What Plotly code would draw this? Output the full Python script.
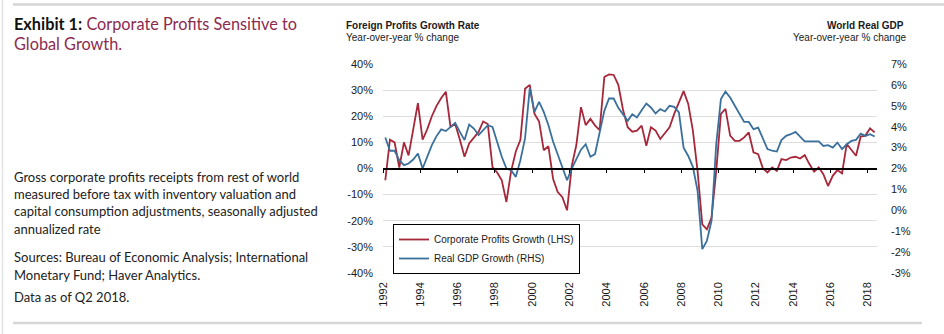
import pandas as pd
import plotly.graph_objects as go

# Quarterly series, 1992 Q1 - 2018 Q2
quarters = pd.date_range("1992-01-01", periods=106, freq="QS") + pd.Timedelta(days=45)

profits_growth = [
    -4.5, 11.0, 10.0, 0.4,      # 1992
    10.0, 5.0, 15.0, 25.0,      # 1993
    11.0, 15.0, 20.0, 24.0,     # 1994
    27.0, 29.4, 16.0, 17.0,     # 1995
    11.0, 4.5, 9.6, 12.0,       # 1996
    14.0, 18.0, 17.0, 0.5,      # 1997
    -1.5, -4.5, -12.8, -1.0,    # 1998
    6.5, 11.0, 30.5, 32.0,      # 1999
    21.0, 18.0, 7.0, 8.5,       # 2000
    -4.0, -9.0, -11.0, -16.0,   # 2001
    1.0, 9.0, 23.5, 16.6,       # 2002
    19.0, 16.5, 14.7, 35.0,     # 2003
    36.0, 35.8, 32.0, 22.5,     # 2004
    15.8, 14.1, 14.5, 16.4,     # 2005
    8.7, 15.8, 14.5, 11.3,      # 2006
    13.8, 15.8, 20.9, 25.4,     # 2007
    29.6, 24.7, 14.5, -1.0,     # 2008
    -21.4, -23.3, -18.8, -1.0,  # 2009
    20.9, 22.8, 12.6, 10.6,     # 2010
    10.6, 11.9, 13.8, 6.2,      # 2011
    5.5, 0.1, -1.5, 0.4,        # 2012
    -0.9, 3.6, 3.2, 4.2,        # 2013
    4.5, 3.8, 5.1, 1.7,         # 2014
    -1.2, 0.4, -2.2, -6.7,      # 2015
    -2.8, -0.6, -1.9, 9.4,      # 2016
    7.1, 4.9, 12.2, 12.6,       # 2017
    15.4, 13.8,                 # 2018
]

gdp_growth = [
    3.48, 2.85, 2.85, 2.40,     # 1992
    2.16, 2.24, 2.43, 2.72,     # 1993
    2.00, 2.56, 3.12, 3.55,     # 1994
    3.87, 3.79, 3.99, 4.18,     # 1995
    3.75, 3.36, 4.10, 3.91,     # 1996
    3.60, 3.83, 4.07, 3.99,     # 1997
    3.28, 2.56, 2.00, 1.92,     # 1998
    1.60, 2.40, 3.44, 5.83,     # 1999
    4.71, 5.19, 4.71, 4.07,     # 2000
    3.28, 2.64, 2.08, 1.44,     # 2001
    2.00, 2.48, 2.90, 3.16,     # 2002
    2.56, 2.69, 3.80, 4.76,     # 2003
    5.35, 5.35, 4.90, 4.60,     # 2004
    4.28, 4.60, 4.44, 4.79,     # 2005
    5.11, 4.92, 4.63, 4.84,     # 2006
    4.73, 5.00, 4.95, 4.68,     # 2007
    3.00, 2.60, 2.08, 0.93,     # 2008
    -1.86, -1.46, -0.50, 3.16,  # 2009
    5.32, 5.68, 5.40, 5.00,     # 2010
    4.60, 4.23, 4.23, 3.88,     # 2011
    3.96, 3.45, 2.93, 2.85,     # 2012
    2.81, 3.36, 3.56, 3.64,     # 2013
    3.75, 3.52, 3.30, 3.30,     # 2014
    3.30, 3.30, 3.08, 3.12,     # 2015
    3.00, 3.24, 2.93, 3.16,     # 2016
    3.32, 3.37, 3.67, 3.56,     # 2017
    3.64, 3.53,                 # 2018
]

left_ticks = [-40, -30, -20, -10, 0, 10, 20, 30, 40]
left_tick_labels = [f"{v}%" for v in left_ticks]
right_ticks = [-3, -2, -1, 0, 1, 2, 3, 4, 5, 6, 7]
right_tick_labels = [f"{v}%" for v in right_ticks]

RED = "#A6283A"
BLUE = "#3A709C"
MAROON = "#8C2B4E"
GRID = "#DEDEDE"

W, H = 944, 334
PL, PR, PT, PB = 383, 877, 64, 273   # plot area edges in pixels


def px(x):
    return (x - PL) / (PR - PL)


def py(y):
    return (PB - y) / (PB - PT)


fig = go.Figure()
fig.add_trace(go.Scatter(
    x=quarters, y=profits_growth, mode="lines",
    name="Corporate Profits Growth (LHS)",
    line=dict(color=RED, width=1.8), yaxis="y",
))
fig.add_trace(go.Scatter(
    x=quarters, y=gdp_growth, mode="lines",
    name="Real GDP Growth (RHS)",
    line=dict(color=BLUE, width=1.8), yaxis="y2",
))
# carrier for the zero-line axis with its biennial tick marks
fig.add_trace(go.Scatter(
    x=quarters[:1], y=[0], mode="markers", marker=dict(opacity=0),
    xaxis="x2", yaxis="y", showlegend=False, hoverinfo="skip",
))

x_range = ["1992-01-01", "2018-07-01"]
tick_font = dict(family="Arial", size=11, color="#1a1a1a")

fig.update_layout(
    width=W, height=H,
    margin=dict(l=PL, r=W - PR, t=PT, b=H - PB, pad=0),
    plot_bgcolor="white", paper_bgcolor="white",
    showlegend=True,
    legend=dict(
        x=px(393), y=py(224), xanchor="left", yanchor="top",
        bgcolor="white", bordercolor="black", borderwidth=1,
        font=dict(family="Arial", size=10, color="#1a1a1a"),
        tracegroupgap=0, itemwidth=30,
    ),
    xaxis=dict(
        range=x_range, type="date", tickmode="linear",
        tick0="1992-01-01", dtick="M24", tickformat="%Y",
        tickangle=-90, ticks="", showgrid=False, showline=False,
        zeroline=False, tickfont=tick_font, automargin=False,
        ticklabelstandoff=6,
    ),
    xaxis2=dict(
        range=x_range, type="date", overlaying="x", anchor="free",
        position=0.5, side="bottom", tickmode="linear",
        tick0="1992-01-01", dtick="M24", ticks="outside", ticklen=4,
        tickwidth=1.3, tickcolor="black", showticklabels=False,
        showline=True, linecolor="black", linewidth=1.5,
        showgrid=False, zeroline=False, automargin=False,
    ),
    yaxis=dict(
        range=[-40, 40], tickmode="array", tickvals=left_ticks,
        ticktext=left_tick_labels, showgrid=True, gridcolor=GRID,
        gridwidth=1, zeroline=False, showline=False, ticks="",
        tickfont=tick_font, automargin=False, ticklabelstandoff=9,
    ),
    yaxis2=dict(
        range=[-3, 7], overlaying="y", side="right", tickmode="array",
        tickvals=right_ticks, ticktext=right_tick_labels,
        showgrid=False, zeroline=False, showline=False, ticks="",
        tickfont=tick_font, automargin=False, ticklabelstandoff=13,
    ),
)

# page rules
rule = dict(color="#D6D6D6")
fig.add_shape(type="line", xref="paper", yref="paper",
              x0=px(13), x1=px(944), y0=py(4.5), y1=py(4.5),
              line=dict(width=2.5, **rule))
fig.add_shape(type="line", xref="paper", yref="paper",
              x0=px(13), x1=px(922), y0=py(323), y1=py(323),
              line=dict(width=2.5, **rule))
fig.add_shape(type="line", xref="paper", yref="paper",
              x0=px(2.5), x1=px(2.5), y0=py(0), y1=py(334),
              line=dict(width=1.5, color="#E3E3E3"))


def note(text, x, y, size, color="#222222", family="Lato",
         xanchor="left", bold=False):
    if bold:
        text = f"<b>{text}</b>"
    fig.add_annotation(
        text=text, x=px(x), y=py(y), xref="paper", yref="paper",
        xanchor=xanchor, yanchor="middle", showarrow=False,
        font=dict(family=family, size=size, color=color),
    )


# exhibit title
note(f"<b>Exhibit 1:</b> <span style='color:{MAROON}'>Corporate Profits Sensitive to</span>",
     12, 23.5, 16.3, color="#111111")
note("Global Growth.", 12, 44, 16.3, color=MAROON)

# description
body = [
    ("Gross corporate profits receipts from rest of world", 177),
    ("measured before tax with inventory valuation and", 194),
    ("capital consumption adjustments, seasonally adjusted", 211),
    ("annualized rate", 228.5),
    ("Sources: Bureau of Economic Analysis; International", 257),
    ("Monetary Fund; Haver Analytics.", 274.5),
    ("Data as of Q2 2018.", 296.5),
]
for line, yy in body:
    note(line, 12, yy, 13)

# axis headers
note("Foreign Profits Growth Rate", 344, 25, 10, family="Arial",
     color="#1a1a1a", bold=True)
note("Year-over-year % change", 344, 37.5, 10, family="Arial", color="#1a1a1a")
note("World Real GDP", 906, 25, 10, family="Arial", color="#1a1a1a",
     xanchor="right", bold=True)
note("Year-over-year % change", 908, 37.5, 10, family="Arial",
     color="#1a1a1a", xanchor="right")

fig.write_html("out.html")
